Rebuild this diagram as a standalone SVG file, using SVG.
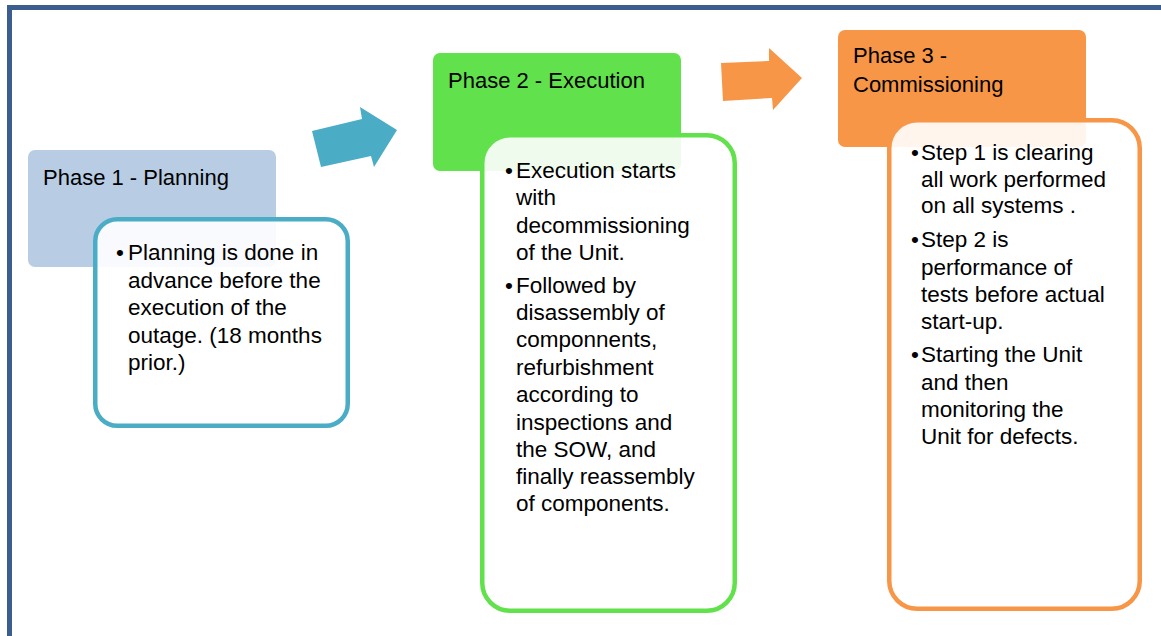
<svg xmlns="http://www.w3.org/2000/svg" width="1161" height="636" viewBox="0 0 1161 636">
  <style>
    text { font-family: "Liberation Sans", Arial, sans-serif; font-size: 22px; fill: #000; }
    .txt text { font-size: 22.5px; }
    .frame { fill: #3B5E8F; }
    .hdr1 { fill: #B8CCE4; }
    .hdr2 { fill: #61E14B; }
    .hdr3 { fill: #F79646; }
    .body { fill: #FFFFFF; fill-opacity: 0.9; stroke-width: 4.5; }
    .body1 { stroke: #4BACC6; }
    .body2 { stroke: #61E14B; }
    .body3 { stroke: #F79646; }
  </style>

  <rect width="1161" height="636" fill="#FFFFFF"/>

  <!-- page frame -->
  <g id="frame">
    <rect class="frame" x="7" y="5" width="1154" height="5"/>
    <rect class="frame" x="7" y="5" width="5" height="631"/>
  </g>

  <!-- flow arrows between phases -->
  <g id="connectors">
    <polygon fill="#4BACC6" points="312,131 362,119 360,107 397,130 374,167 371,156 321,167"/>
    <polygon fill="#F79646" points="721,63 769,61 769,48 802,78 773,110 772,98 723,101"/>
  </g>

  <!-- Phase 1 -->
  <g id="phase1">
    <rect class="hdr1" x="28" y="150" width="248" height="117" rx="7"/>
    <text x="43" y="185">Phase 1 - Planning</text>
    <rect class="body body1" x="95.25" y="219.25" width="252.5" height="206.5" rx="22"/>
    <g class="txt">
      <text x="116" y="260">•</text>
      <text x="128" y="260">Planning is done in</text>
      <text x="128" y="288">advance before the</text>
      <text x="128" y="315">execution of the</text>
      <text x="128" y="343">outage. (18 months</text>
      <text x="128" y="370">prior.)</text>
    </g>
  </g>

  <!-- Phase 2 -->
  <g id="phase2">
    <rect class="hdr2" x="433" y="53" width="248" height="118" rx="7"/>
    <text x="448" y="88">Phase 2 - Execution</text>
    <rect class="body body2" x="482.25" y="135.25" width="252.5" height="475.5" rx="28"/>
    <g class="txt">
      <text x="505" y="178">•</text>
      <text x="516" y="178">Execution starts</text>
      <text x="516" y="205">with</text>
      <text x="516" y="233">decommissioning</text>
      <text x="516" y="260">of the Unit.</text>
      <text x="505" y="293">•</text>
      <text x="516" y="293">Followed by</text>
      <text x="516" y="320">disassembly of</text>
      <text x="516" y="347">componnents,</text>
      <text x="516" y="375">refurbishment</text>
      <text x="516" y="402">according to</text>
      <text x="516" y="430">inspections and</text>
      <text x="516" y="457">the SOW, and</text>
      <text x="516" y="484">finally reassembly</text>
      <text x="516" y="511">of components.</text>
    </g>
  </g>

  <!-- Phase 3 -->
  <g id="phase3">
    <rect class="hdr3" x="838" y="30" width="248" height="117" rx="7"/>
    <text x="853" y="63">Phase 3 -</text>
    <text x="853" y="92">Commissioning</text>
    <rect class="body body3" x="889.25" y="120.25" width="250.5" height="488.5" rx="28"/>
    <g class="txt">
      <text x="911" y="160">•</text>
      <text x="921" y="160">Step 1 is clearing</text>
      <text x="921" y="187">all work performed</text>
      <text x="921" y="213">on all systems .</text>
      <text x="911" y="247">•</text>
      <text x="921" y="247">Step 2 is</text>
      <text x="921" y="275">performance of</text>
      <text x="921" y="302">tests before actual</text>
      <text x="921" y="329">start-up.</text>
      <text x="911" y="362">•</text>
      <text x="921" y="362">Starting the Unit</text>
      <text x="921" y="390">and then</text>
      <text x="921" y="417">monitoring the</text>
      <text x="921" y="444">Unit for defects.</text>
    </g>
  </g>
</svg>
